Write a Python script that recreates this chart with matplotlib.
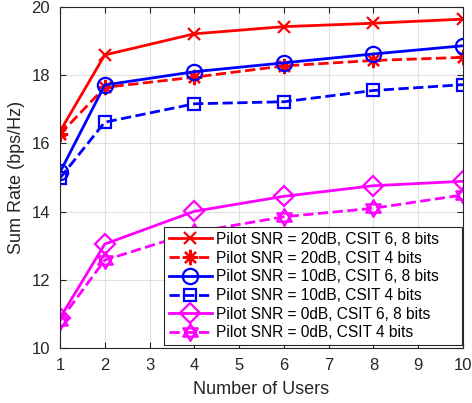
import numpy as np
import matplotlib.pyplot as plt
from matplotlib.path import Path

plt.rcParams['font.family'] = ['Liberation Sans', 'DejaVu Sans']

# Number of users and sum rates (bps/Hz)
users = [1, 2, 4, 6, 8, 10]
snr20_csit68 = [16.35, 18.59, 19.21, 19.42, 19.52, 19.64]
snr20_csit4 = [16.27, 17.64, 17.94, 18.27, 18.43, 18.52]
snr10_csit68 = [15.15, 17.71, 18.10, 18.36, 18.62, 18.86]
snr10_csit4 = [14.98, 16.62, 17.16, 17.22, 17.55, 17.72]
snr0_csit68 = [10.88, 13.05, 14.01, 14.45, 14.76, 14.89]
snr0_csit4 = [10.80, 12.58, 13.40, 13.85, 14.10, 14.49]

labels = ['Pilot SNR = 20dB, CSIT 6, 8 bits',
          'Pilot SNR = 20dB, CSIT 4 bits',
          'Pilot SNR = 10dB, CSIT 6, 8 bits',
          'Pilot SNR = 10dB, CSIT 4 bits',
          'Pilot SNR = 0dB, CSIT 6, 8 bits',
          'Pilot SNR = 0dB, CSIT 4 bits']

# hexagram marker: two overlapping triangles
ang = np.deg2rad([90, 210, 330, 90])
up = np.column_stack([np.cos(ang), np.sin(ang)])
dn = -up
hexagram = Path(np.vstack([up, dn]),
                [Path.MOVETO, Path.LINETO, Path.LINETO, Path.CLOSEPOLY] * 2)

fig = plt.figure(figsize=(4.72, 4.03), dpi=100)
ax = fig.add_axes([0.127, 0.136, 0.854, 0.847])

mk = dict(markerfacecolor='none', markeredgewidth=1.6, linewidth=2)
ax.plot(users, snr20_csit68, '-', color='#ff0000', marker='x', markersize=9, **mk)
ax.plot(users, snr20_csit4, '--', color='#ff0000', marker=(8, 2, 0), markersize=11, **mk)
ax.plot(users, snr10_csit68, '-', color='#0000ff', marker='o', markersize=11, **mk)
ax.plot(users, snr10_csit4, '--', color='#0000ff', marker='s', markersize=9, **mk)
ax.plot(users, snr0_csit68, '-', color='#ff00ff', marker='D', markersize=10, **mk)
ax.plot(users, snr0_csit4, '--', color='#ff00ff', marker=hexagram, markersize=12, **mk)

ax.set_xlim(1, 10)
ax.set_ylim(10, 20)
ax.set_xticks(range(1, 11))
ax.set_yticks(range(10, 21, 2))
ax.grid(True, color='#e0e0e0', linewidth=0.8)
ax.set_axisbelow(True)
ax.tick_params(direction='in', top=True, right=True, labelsize=12,
               colors='#262626', length=4)
ax.tick_params(axis='x', pad=7)
ax.tick_params(axis='y', pad=7)
for s in ax.spines.values():
    s.set_color('#262626')
    s.set_linewidth(0.8)

ax.set_xlabel('Number of Users', fontsize=13, color='#262626', labelpad=6)
ax.set_ylabel('Sum Rate (bps/Hz)', fontsize=13, color='#262626', labelpad=5)

leg = ax.legend(labels, loc='lower left', bbox_to_anchor=(0.258, 0.009, 0.74, 0.3),
                mode='expand', borderaxespad=0, fontsize=11.2, frameon=True,
                fancybox=False, edgecolor='#262626', framealpha=1,
                handlelength=2.8, handletextpad=0.25,
                labelspacing=0.24, borderpad=0.3)
leg.get_frame().set_linewidth(0.8)

fig.savefig('out.png', dpi=100)
